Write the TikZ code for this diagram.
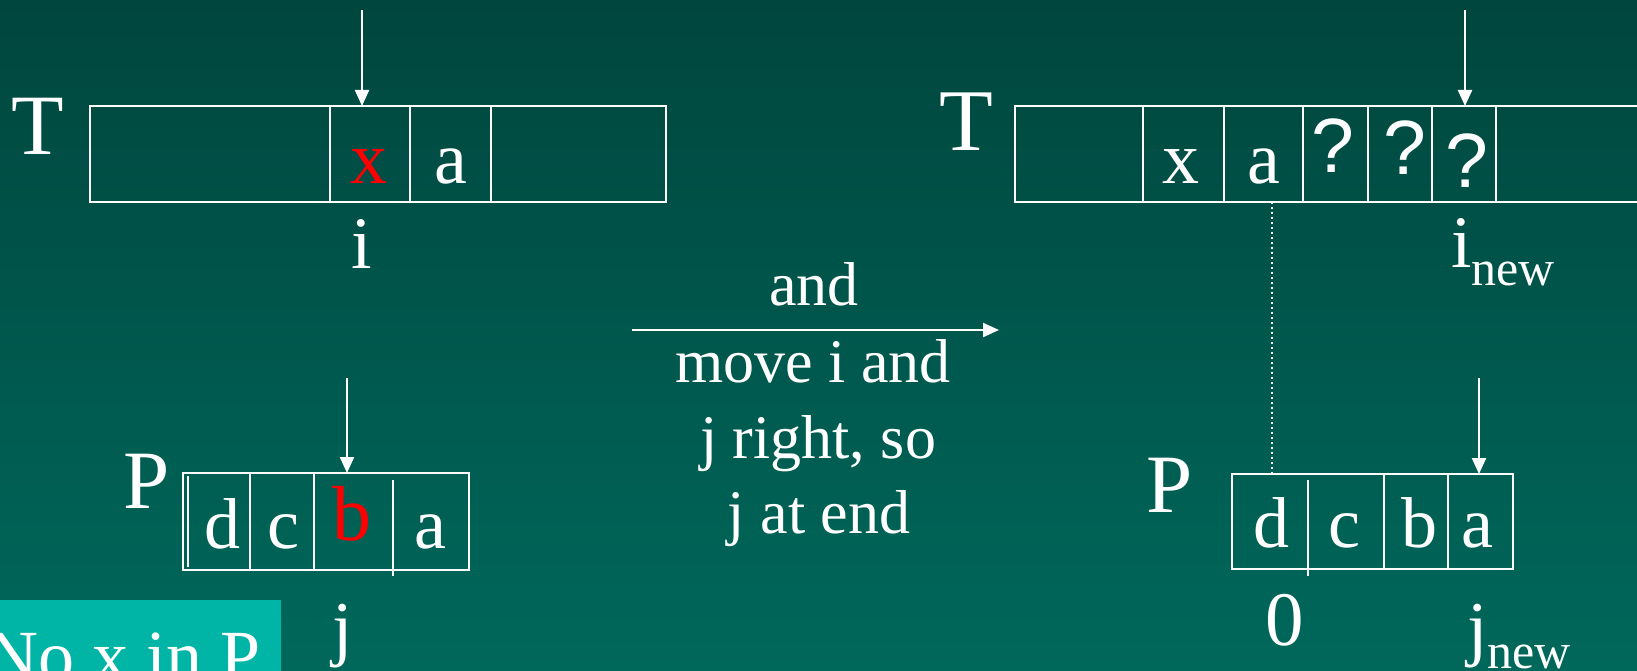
\documentclass[tikz,border=0pt]{standalone}
\usepackage{fontspec}
\setmainfont{Liberation Serif}
\newfontfamily\arialfont{Liberation Sans}
\usetikzlibrary{arrows.meta}
\definecolor{bgtop}{RGB}{0,70,62}
\definecolor{bgbot}{RGB}{0,104,91}
\definecolor{notecol}{RGB}{0,181,166}
\newcommand\fsz[1]{\fontsize{#1}{#1}\selectfont}
\begin{document}
\begin{tikzpicture}[x=1pt,y=-1pt,
  cellline/.style={draw=white,line width=2.2pt},
  ptr/.style={draw=white,line width=2.2pt,-{Triangle[length=16pt,width=14pt]}},
  txt/.style={text=white,anchor=base,inner sep=0pt,outer sep=0pt},
  redtxt/.style={txt,text=red},
  dotline/.style={draw=white,line width=2pt,dash pattern=on 2pt off 3pt},
]
\useasboundingbox (0,0) rectangle (1637,671);
\clip (0,0) rectangle (1637,671);
\shade[top color=bgtop,bottom color=bgbot] (0,0) rectangle (1637,671);

% ---------- left T ----------
\node[txt] (lT) at (37.5,155) {\fsz{86}T};
\path[cellline] (90,106) rectangle (666,202);
\draw[cellline] (330,106) -- (330,202) (410,106) -- (410,202) (491,106) -- (491,202);
\node[redtxt] (lTx) at (369,184) {\fsz{74}x};
\node[txt] (lTa) at (451,184) {\fsz{74}a};
\coordinate (lTtop) at (362,10);
\coordinate (lTcell) at (362,106);
\draw[ptr] (lTtop) -- (lTcell);
\node[txt] (li) at (362,268) {\fsz{74}i};

% ---------- left P ----------
\node[txt] (lP) at (147,508) {\fsz{83}P};
\path[cellline] (183,473) rectangle (469,570);
\draw[cellline] (188,476) -- (188,567);
\draw[cellline] (250,473) -- (250,570) (314,473) -- (314,570) (393,480) -- (393,576);
\node[txt] (lPd) at (222,548) {\fsz{72}d};
\node[txt] (lPc) at (283,548) {\fsz{72}c};
\node[redtxt] (lPb) at (352,540) {\fsz{78}b};
\node[txt] (lPa) at (430,548) {\fsz{72}a};
\coordinate (lPtop) at (347,378);
\coordinate (lPcell) at (347,473);
\draw[ptr] (lPtop) -- (lPcell);
\node[txt] (lj) at (343,652) {\fsz{73}j};

% ---------- note ----------
\fill[notecol] (0,600) rectangle (281,690);
\node[txt,anchor=base west] (note) at (-13,680) {\fsz{72}No x in P};

% ---------- middle ----------
\coordinate (mA) at (632,330);
\coordinate (mB) at (999,330);
\draw[ptr] (mA) -- (mB);
\node[txt] (m1) at (814,305) {\fsz{62}and};
\node[txt] (m2) at (813,382) {\fsz{62}move i and};
\node[txt] (m3) at (818,458) {\fsz{62}j right, so};
\node[txt] (m4) at (819,533) {\fsz{62}j at end};

% ---------- right T ----------
\node[txt] (rT) at (966,151) {\fsz{88}T};
\draw[cellline] (1660,106) -- (1015,106) -- (1015,202) -- (1660,202);
\draw[cellline] (1143,106) -- (1143,202) (1224,106) -- (1224,202) (1303,106) -- (1303,202)
  (1368,106) -- (1368,202) (1432,106) -- (1432,202) (1496,106) -- (1496,202);
\node[txt] (rTx) at (1181,184) {\fsz{74}x};
\node[txt] (rTa) at (1264,184) {\fsz{74}a};
\node[txt] (rTq1) at (1333,173) {\arialfont\fsz{77}?};
\node[txt] (rTq2) at (1405,175) {\arialfont\fsz{77}?};
\node[txt] (rTq3) at (1467,188) {\arialfont\fsz{77}?};
\coordinate (rTtop) at (1465,10);
\coordinate (rTcell) at (1465,106);
\draw[ptr] (rTtop) -- (rTcell);
\node[txt,anchor=base west] (ri) at (1451,267) {\fsz{74}i\fsz{50}\raisebox{-18pt}{new}};

% ---------- right P ----------
\node[txt] (rP) at (1170,512) {\fsz{83}P};
\path[cellline] (1232,474) rectangle (1513,569);
\draw[cellline] (1308,480) -- (1308,576) (1384,474) -- (1384,569) (1448,474) -- (1448,569);
\node[txt] (rPd) at (1271,547) {\fsz{72}d};
\node[txt] (rPc) at (1344,547) {\fsz{72}c};
\node[txt] (rPb) at (1419,547) {\fsz{72}b};
\node[txt] (rPa) at (1477,547) {\fsz{72}a};
\coordinate (rPtop) at (1479,378);
\coordinate (rPcell) at (1479,474);
\draw[ptr] (rPtop) -- (rPcell);
\node[txt] (r0) at (1285,645) {\fsz{77}0};
\node[txt,anchor=base west] (rj) at (1467,652) {\fsz{73}j\fsz{50}\raisebox{-16pt}{new}};

% dotted alignment line
\coordinate (dTop) at (1272,202);
\coordinate (dBot) at (1272,474);
\draw[dotline] (dTop) -- (dBot);
\end{tikzpicture}
\end{document}
